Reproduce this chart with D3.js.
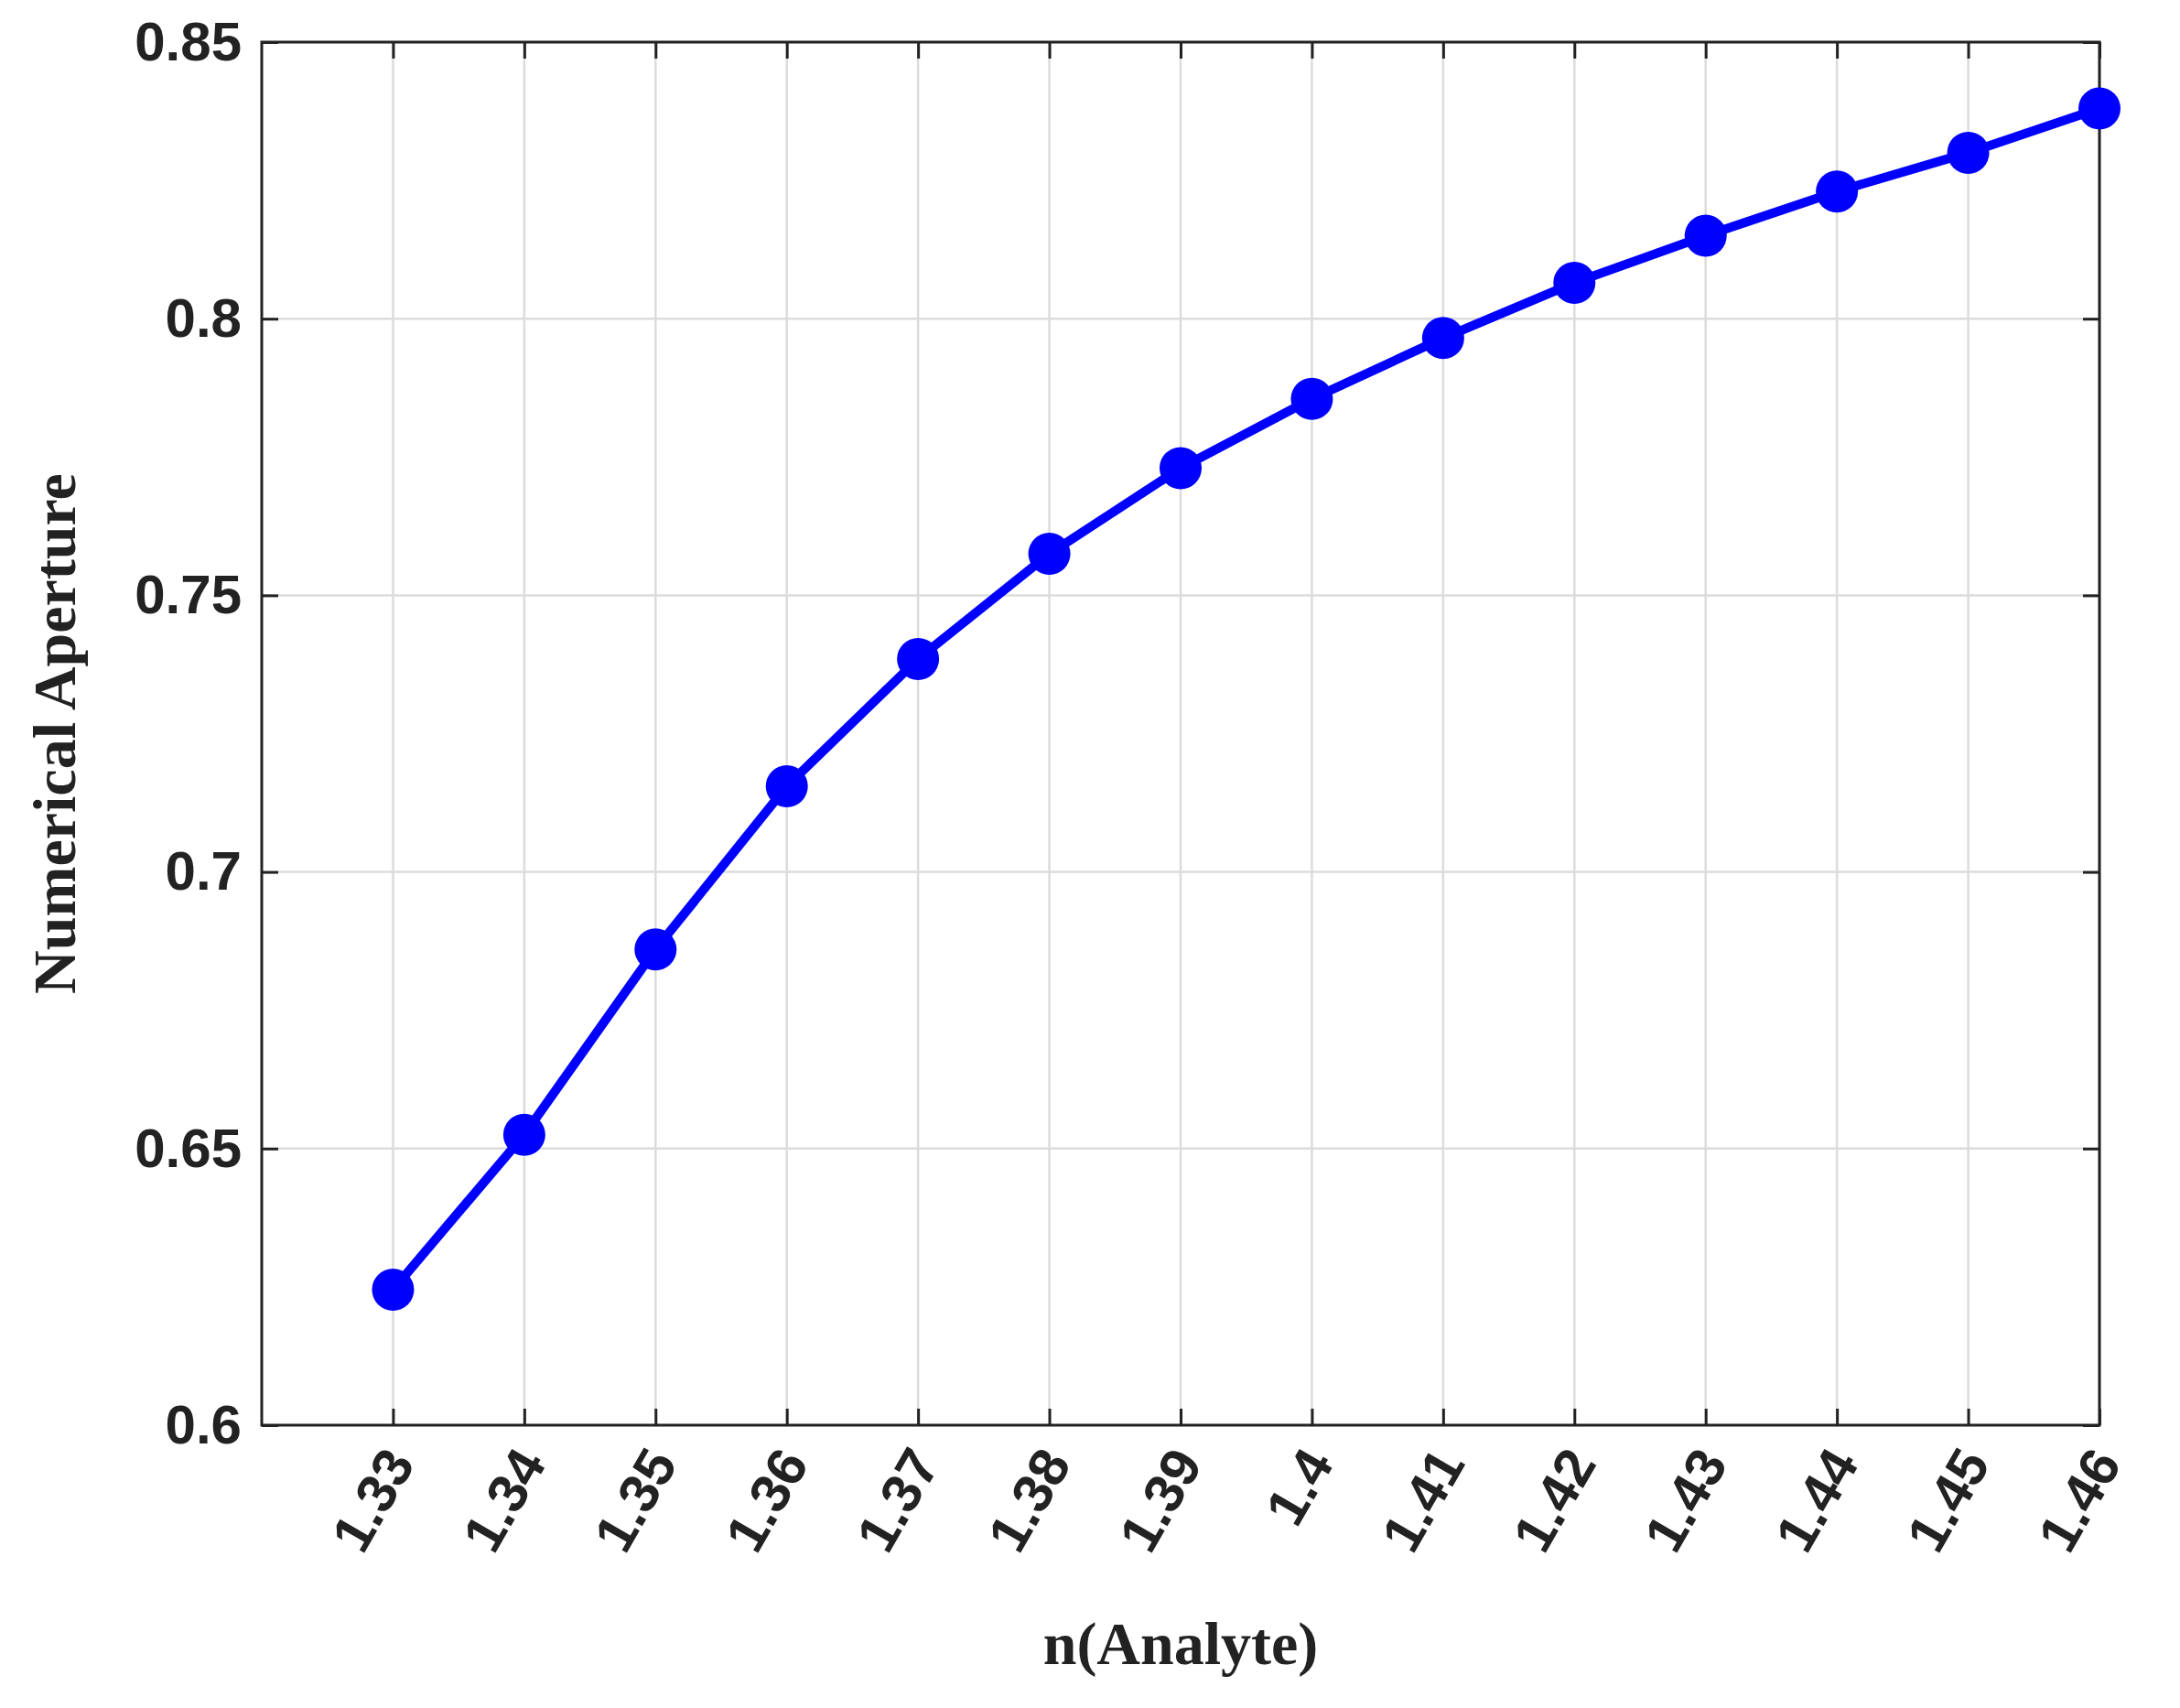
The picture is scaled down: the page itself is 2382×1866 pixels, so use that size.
<!DOCTYPE html><html><head><meta charset="utf-8"><script src="https://d3js.org/d3.v7.min.js"></script>
<style>body{margin:0;background:#fff}</style></head><body><script>
const xValues=[1.33,1.34,1.35,1.36,1.37,1.38,1.39,1.40,1.41,1.42,1.43,1.44,1.45,1.46];
const naValues=[0.6245,0.6525,0.686,0.7155,0.7385,0.7575,0.773,0.7855,0.7965,0.8065,0.815,0.823,0.830,0.838];
const xTickLabels=["1.33","1.34","1.35","1.36","1.37","1.38","1.39","1.4","1.41","1.42","1.43","1.44","1.45","1.46"];
const yTicks=[0.6,0.65,0.7,0.75,0.8,0.85];
const W=2382,H=1866,L=286,R=2294,T=46,B=1557;
const svg=d3.select("body").append("svg").attr("width",W).attr("height",H).style("font-family","'Liberation Serif','Times New Roman',serif").style("font-weight","bold");
const x=d3.scaleLinear().domain([1.32,1.46]).range([L,R]);
const y=d3.scaleLinear().domain([0.6,0.85]).range([B,T]);
const g=svg.append("g");
xValues.forEach(v=>g.append("line").attr("x1",x(v)).attr("x2",x(v)).attr("y1",T).attr("y2",B).attr("stroke","#dcdcdc").attr("stroke-width",2.5));
yTicks.forEach(v=>g.append("line").attr("x1",L).attr("x2",R).attr("y1",y(v)).attr("y2",y(v)).attr("stroke","#dcdcdc").attr("stroke-width",2.5));
const ax=d3.axisBottom(x).tickValues(xValues).tickSize(-18).tickFormat((d,i)=>xTickLabels[i]);
const xa=svg.append("g").attr("transform",`translate(0,${B})`).call(ax);
xa.select(".domain").remove();
xa.selectAll("text").attr("font-size",60).attr("fill","#222").attr("text-anchor","end").attr("dy","0").attr("transform","translate(22,40) rotate(-60)");
svg.append("g").attr("transform",`translate(0,${T})`).call(d3.axisTop(x).tickValues(xValues).tickSize(-18).tickFormat("")).select(".domain").remove();
const ya=svg.append("g").attr("transform",`translate(${L},0)`).call(d3.axisLeft(y).tickValues(yTicks).tickSize(-18).tickPadding(22).tickFormat(d=>String(d)));
ya.select(".domain").remove();
ya.selectAll("text").attr("font-size",60).attr("fill","#222");
svg.append("g").attr("transform",`translate(${R},0)`).call(d3.axisRight(y).tickValues(yTicks).tickSize(-18).tickFormat("")).select(".domain").remove();
svg.selectAll(".tick line").attr("stroke","#222").attr("stroke-width",3);
svg.append("rect").attr("x",L).attr("y",T).attr("width",R-L).attr("height",B-T).attr("fill","none").attr("stroke","#222").attr("stroke-width",3);
const line=d3.line().x((d,i)=>x(xValues[i])).y(d=>y(d));
svg.append("path").datum(naValues).attr("d",line).attr("fill","none").attr("stroke","#0000ff").attr("stroke-width",10);
svg.selectAll("circle.p").data(naValues).enter().append("circle").attr("cx",(d,i)=>x(xValues[i])).attr("cy",d=>y(d)).attr("r",23).attr("fill","#0000ff");
svg.append("text").attr("x",(L+R)/2).attr("y",1818).attr("text-anchor","middle").attr("font-size",66).attr("fill","#222").text("n(Analyte)");
svg.append("text").attr("transform",`translate(82,${(T+B)/2}) rotate(-90)`).attr("text-anchor","middle").attr("font-size",66).attr("fill","#222").text("Numerical Aperture");
</script></body></html>
